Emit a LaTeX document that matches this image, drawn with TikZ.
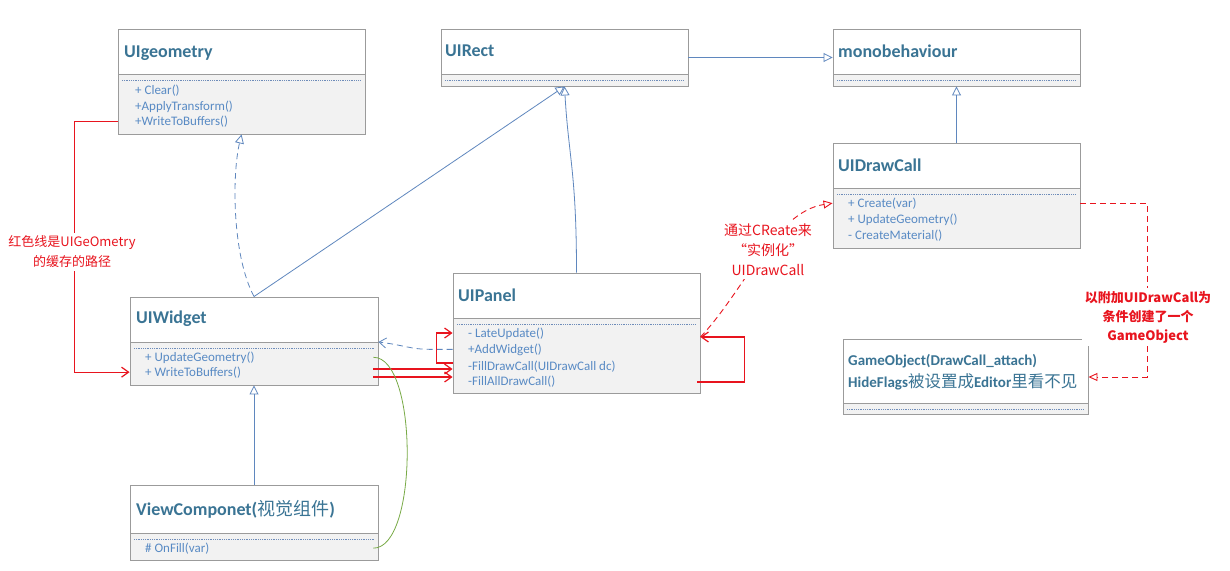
\documentclass[tikz,border=0pt]{standalone}
\usepackage{fontspec}
\setmainfont{Carlito}
\newfontfamily\cjk{Noto Sans CJK SC}
\usetikzlibrary{arrows.meta,fit,calc}
\definecolor{ttl}{RGB}{58,116,148}
\definecolor{mem}{RGB}{88,138,196}
\definecolor{lnblue}{RGB}{95,135,190}
\definecolor{rd}{RGB}{232,20,30}
\definecolor{gr}{RGB}{120,170,70}
\definecolor{bord}{RGB}{155,155,155}
\definecolor{memfill}{RGB}{242,242,242}
\definecolor{dotc}{RGB}{110,140,185}
\newcommand\umlcls[6]{%
  \fill[white] (#2,#3) rectangle (#4,#5);
  \fill[memfill] (#2,#5) rectangle (#4,#6);
  \draw[bord, line width=0.9] (#2,#5) -- (#4,#5);
  \draw[dotc, line width=0.6, dash pattern=on 0.8pt off 1pt] (#2+4,#5+6) -- (#4-4,#5+6);
  \node[draw=bord, line width=0.9, inner sep=0, fit={(#2,#3) (#4,#6)}] (#1) {};
}
\tikzset{
  ttlst/.style={font=\fontsize{18}{22}\selectfont\bfseries, text=ttl, inner sep=0, anchor=base west},
  memst/.style={font=\fontsize{13}{16}\selectfont, text=mem, inner sep=0, anchor=base west},
  inh/.style={lnblue, line width=0.8, -{Triangle[open, length=9pt, width=9pt]}},
  redarr/.style={draw=rd, line width=1.2, -{Straight Barb[length=7pt, width=10pt]}},
  redlbl/.style={font=\cjk\fontsize{13}{20}\selectfont, text=rd, fill=white, align=center, inner sep=3pt},
}
\begin{document}
\begin{tikzpicture}[x=1pt,y=-1pt]
\fill[white] (0,0) rectangle (1230,570);
\path[use as bounding box] (0,0) rectangle (1230,570);

\umlcls{geo}{118}{29}{365}{74}{134}
\umlcls{rect}{441}{29}{688}{74}{86}
\umlcls{mono}{833}{29}{1080}{74}{86}
\umlcls{dc}{833}{143}{1080}{188}{248}
\umlcls{widget}{130}{297}{378}{342}{385}
\umlcls{panel}{453}{273}{700}{318}{393}
\umlcls{view}{130}{485}{378}{533}{560}
\umlcls{go}{843}{339}{1088}{403}{414}

\node[ttlst] (geoT) at (124,57) {UIgeometry};
\node[memst] (geo1) at (135,94) {+ Clear()};
\node[memst] (geo2) at (135,110) {+ApplyTransform()};
\node[memst] (geo3) at (135,125) {+WriteToBuffers()};
\node[ttlst] (rectT) at (445,56) {UIRect};
\node[ttlst] (monoT) at (838,57) {monobehaviour};
\node[ttlst] (dcT) at (838,171) {UIDrawCall};
\node[memst] (dc1) at (848,207) {+ Create(var)};
\node[memst] (dc2) at (848,223) {+ UpdateGeometry()};
\node[memst] (dc3) at (848,239) {- CreateMaterial()};
\node[ttlst] (wT) at (136,323) {UIWidget};
\node[memst] (w1) at (145,361) {+ UpdateGeometry()};
\node[memst] (w2) at (145,376) {+ WriteToBuffers()};
\node[ttlst] (pT) at (458,301) {UIPanel};
\node[memst] (p1) at (468,337) {- LateUpdate()};
\node[memst] (p2) at (468,353) {+AddWidget()};
\node[memst] (p3) at (468,370) {-FillDrawCall(UIDrawCall dc)};
\node[memst] (p4) at (468,385) {-FillAllDrawCall()};
\node[ttlst] (vT) at (136,515) {ViewComponet({\cjk\mdseries 视觉组件})};
\node[memst] (v1) at (145,552) {\# OnFill(var)};
\node[ttlst, font=\fontsize{15}{20}\selectfont\bfseries] (goT1) at (848,365) {GameObject(DrawCall\_attach)};
\node[ttlst, font=\fontsize{15}{20}\selectfont\bfseries] (goT2) at (848,387) {HideFlags{\cjk\mdseries\fontsize{16.5}{20}\selectfont 被设置成}Editor{\cjk\mdseries\fontsize{16.5}{20}\selectfont 里看不见}};

% inheritance
\draw[inh] (rect.east) -- (mono.west);
\draw[inh] (dc.north) -- (mono.south);
\draw[inh] (widget.north) -- (rect.south);
\draw[inh] (panel.north) .. controls +(0,-100) and +(4,70) .. (rect.south);
\draw[inh, dash pattern=on 6pt off 4pt] (widget.north) .. controls (232,255) and (232,175) .. (geo.south);
\draw[inh] (view.north) -- (widget.south);
\draw[lnblue, line width=0.8, dash pattern=on 6pt off 4pt, -{Straight Barb[length=7pt, width=10pt]}]
  (panel.west |- p2) -- ++(-22,0) .. controls +(-20,0) and +(25,3) .. (widget.east |- 0,342);

% red left path
\draw[redarr] (geo.west |- geo3) -- ++(-43,0) |- (widget.west |- w2);
\node[redlbl] (lblL) at (72,252) {红色线是UIGeOmetry\\的缓存的路径};

% red widget -> panel
\draw[redarr] ($(widget.east |- 0,369)+(-5,0)$) -- (panel.west |- 0,369);
\draw[redarr] ($(widget.east |- 0,377)+(-5,0)$) -- (panel.west |- 0,377);
\draw[redarr] (panel.west |- 0,363) -- ++(-16,0) |- (panel.west |- 0,333);
\draw[redarr] ($(panel.east |- 0,382)+(-3,0)$) -- ++(47,0) |- (panel.east |- 0,337);

% red dashed create
\draw[rd, line width=0.9, dash pattern=on 6pt off 4pt, -{Triangle[open, length=9pt, width=8pt]}]
  (panel.east |- 0,337) .. controls (745,290) and (775,212) .. (dc.west |- dc1);
\node[redlbl, font=\cjk\fontsize{14}{20}\selectfont] (lblM) at (768,250) {通过CReate来\\“实例化”\\UIDrawCall};

% red dashed to GameObject
\draw[rd, line width=0.9, dash pattern=on 6pt off 4pt, -{Triangle[open, length=9pt, width=8pt]}]
  (dc.east |- dc1) -- ++(67,0) |- (go.east |- 0,377);
\node[redlbl, font=\cjk\fontsize{13}{19}\selectfont\bfseries] (lblR) at (1148,317) {以附加UIDrawCall为\\条件创建了一个\\GameObject};

% green
\draw[gr, line width=0.8] ($(widget.east |- w1)+(-5,0)$) .. controls +(45,0) and +(45,0) .. ($(view.east |- v1)+(-5,0)$);
\end{tikzpicture}
\end{document}
